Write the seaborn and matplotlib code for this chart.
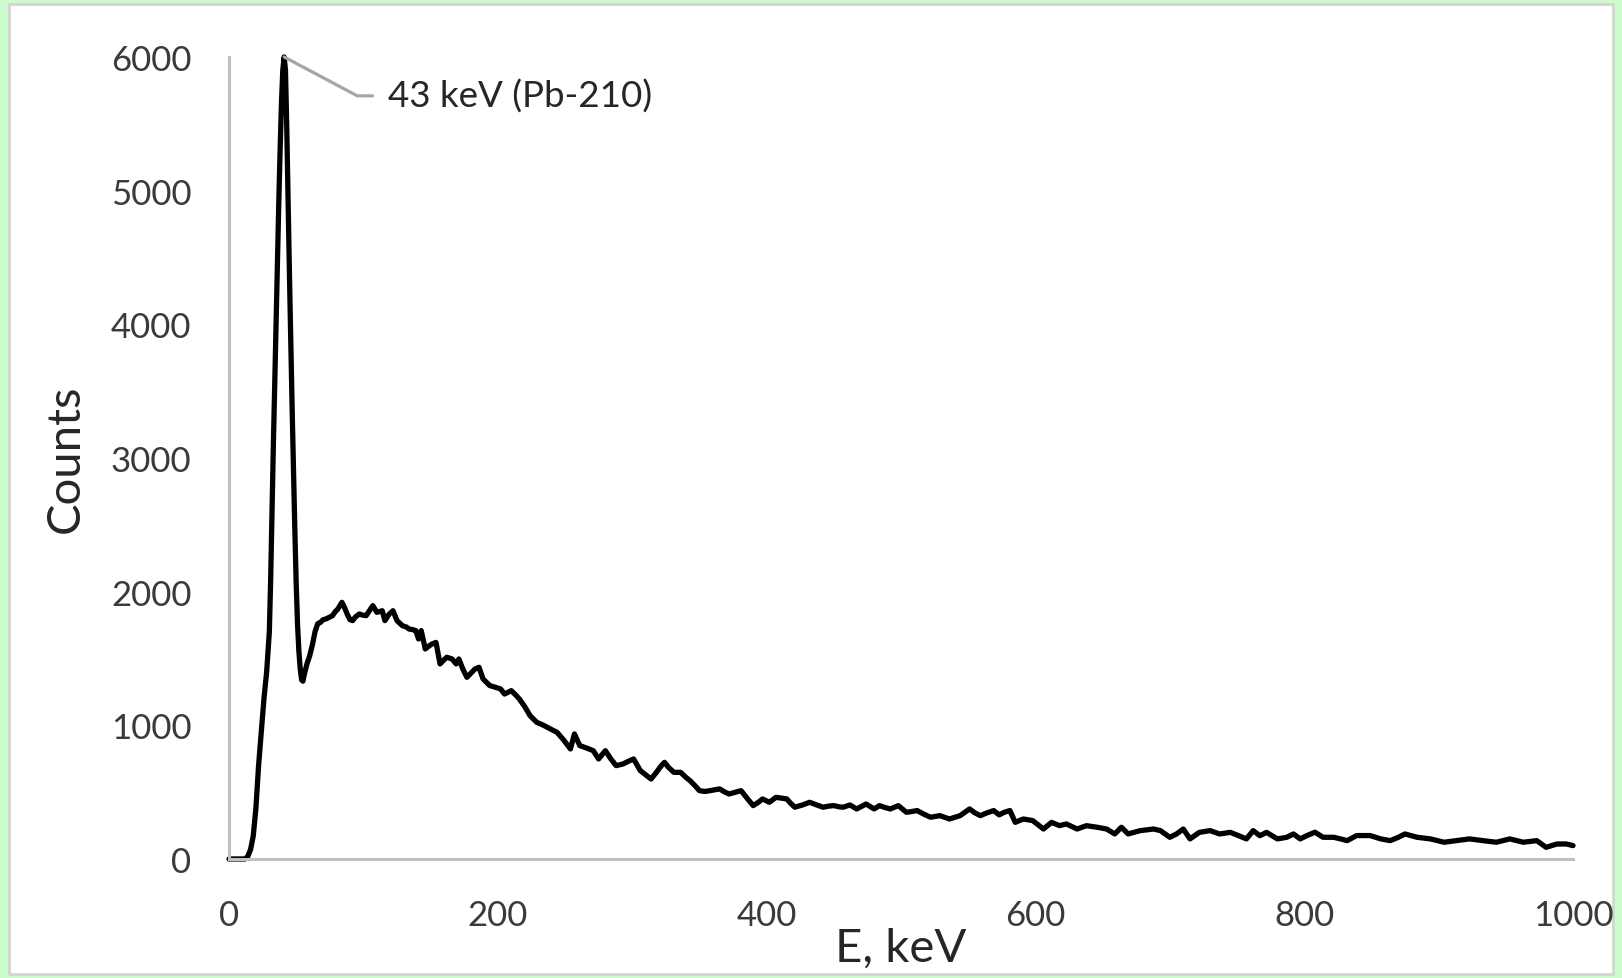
import matplotlib
matplotlib.use("Agg")
import matplotlib.pyplot as plt
import seaborn as sns
import pandas as pd
from matplotlib.patches import Rectangle

# spectrum (keV, counts)
energy_kev = [0, 4, 8, 12, 14, 16, 18, 20, 22, 24, 26, 28, 30, 31, 32, 33, 34, 35, 36, 37,
              38, 39, 40, 41, 42, 43, 44, 45, 46, 47, 48, 49, 50, 51, 52, 53, 54, 55, 56, 58,
              60, 62, 64, 66, 68, 70, 72, 75, 77, 79, 81, 84, 86, 88, 90, 92, 94, 97, 99, 102,
              104, 107, 110, 114, 116, 119, 122, 125, 129, 132, 134, 137, 139, 141, 143, 146, 149, 151, 154, 157,
              160, 162, 166, 169, 171, 174, 177, 180, 183, 186, 189, 194, 198, 202, 205, 210, 213, 216, 220, 224,
              229, 234, 239, 244, 249, 254, 257, 261, 266, 271, 275, 280, 284, 288, 293, 297, 301, 306, 310, 314,
              318, 321, 324, 327, 331, 336, 340, 343, 347, 350, 354, 358, 365, 369, 372, 377, 381, 385, 390, 394,
              397, 402, 407, 411, 415, 418, 421, 427, 432, 437, 442, 446, 450, 454, 457, 462, 467, 471, 474, 480,
              484, 488, 492, 498, 504, 508, 512, 517, 522, 529, 536, 544, 551, 555, 559, 564, 569, 573, 577, 581,
              585, 591, 598, 606, 612, 618, 623, 631, 638, 646, 653, 659, 664, 669, 678, 688, 693, 700, 705, 710,
              715, 722, 730, 737, 745, 751, 757, 762, 767, 772, 780, 787, 792, 797, 802, 808, 814, 822, 827, 832,
              839, 849, 857, 864, 870, 875, 884, 894, 904, 913, 923, 933, 943, 953, 963, 973, 980, 988, 995, 1000]
counts = [0, 0, 0, 0, 20, 70, 170, 380, 700, 950, 1200, 1400, 1700, 2100, 2600, 3100, 3550, 4000, 4450, 4900,
          5300, 5650, 5900, 6000, 5900, 5450, 4900, 4350, 3850, 3350, 2900, 2450, 2050, 1750, 1550, 1420, 1340, 1330, 1380, 1460,
          1520, 1600, 1700, 1760, 1770, 1790, 1795, 1810, 1820, 1850, 1870, 1920, 1880, 1830, 1790, 1783, 1810, 1833, 1825, 1820,
          1850, 1895, 1845, 1857, 1783, 1830, 1857, 1783, 1745, 1735, 1720, 1715, 1708, 1646, 1708, 1571, 1595, 1608, 1620, 1459,
          1490, 1509, 1496, 1459, 1496, 1420, 1359, 1390, 1421, 1434, 1347, 1297, 1285, 1272, 1234, 1259, 1230, 1197, 1140, 1072,
          1022, 1000, 973, 948, 890, 823, 935, 848, 830, 810, 748, 810, 750, 698, 710, 730, 748, 661, 630, 598,
          648, 690, 723, 685, 648, 648, 610, 586, 545, 511, 505, 511, 524, 500, 486, 500, 511, 460, 399, 425,
          449, 424, 461, 455, 449, 415, 387, 405, 424, 405, 387, 395, 399, 390, 387, 404, 374, 395, 411, 374,
          399, 385, 374, 399, 349, 355, 362, 335, 312, 324, 299, 324, 374, 345, 324, 345, 362, 330, 350, 362,
          274, 299, 287, 224, 274, 249, 262, 224, 249, 237, 224, 187, 237, 187, 212, 224, 212, 162, 187, 224,
          150, 199, 212, 187, 199, 175, 150, 212, 174, 199, 150, 162, 187, 150, 175, 200, 162, 162, 150, 137,
          175, 175, 150, 137, 162, 187, 162, 150, 125, 137, 150, 137, 125, 150, 125, 137, 87, 112, 112, 100]

x_ticks = [0, 200, 400, 600, 800, 1000]
y_ticks = [0, 1000, 2000, 3000, 4000, 5000, 6000]
peak_label = "43 keV (Pb-210)"

sns.set_theme(style="white")
plt.rcParams["font.family"] = ["Lato", "DejaVu Sans"]

spectrum = pd.DataFrame({"E": energy_kev, "Counts": counts})

fig = plt.figure(figsize=(16.22, 9.79), dpi=100)
fig.patch.set_facecolor("#ccfccc")
frame = Rectangle((0.0055, 0.004), 0.989, 0.991, transform=fig.transFigure,
                  facecolor="white", edgecolor="#d4d4d4", lw=2, zorder=-10)
fig.add_artist(frame)
ax = fig.add_axes([0.1412, 0.1216, 0.8286, 0.8192])
ax.set_zorder(5)
ax.set_facecolor("none")

sns.lineplot(data=spectrum, x="E", y="Counts", color="black", lw=3.8, ax=ax)
ax.lines[0].set_clip_on(False)

ax.set_xlim(0, 1000)
ax.set_ylim(0, 6000)
ax.set_xticks(x_ticks)
ax.set_yticks(y_ticks)
for s in ["top", "right"]:
    ax.spines[s].set_visible(False)
for s in ["left", "bottom"]:
    ax.spines[s].set_color("#c0c0c0")
    ax.spines[s].set_linewidth(2.2)
ax.tick_params(axis="both", length=0, labelsize=25, labelcolor="#3a3a3a")
ax.tick_params(axis="x", pad=29)
ax.tick_params(axis="y", pad=27)

ax.set_xlabel("E, keV", fontsize=34, color="#262626")
ax.set_ylabel("Counts", fontsize=34, color="#262626")
ax.xaxis.set_label_coords(0.5, -0.085)
ax.yaxis.set_label_coords(-0.106, 0.5)

# leader line to the Pb-210 peak
i_peak = spectrum["Counts"].idxmax()
ax.annotate(peak_label, xy=(spectrum["E"][i_peak], spectrum["Counts"][i_peak]),
            xytext=(75, -28), textcoords="offset points", ha="left", va="center",
            fontsize=26.5, color="#262626",
            arrowprops=dict(arrowstyle="-", color="#a6a6a6", lw=2.3, shrinkA=9, shrinkB=0,
                            relpos=(0, 0.5), connectionstyle="angle,angleA=0,angleB=-28,rad=0"))

fig.savefig("out.png", dpi=100)
